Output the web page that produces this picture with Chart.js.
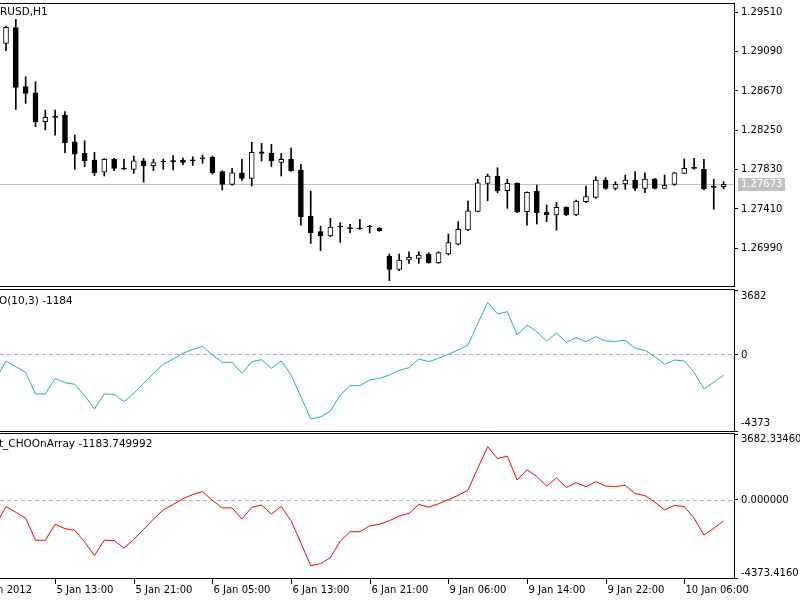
<!DOCTYPE html>
<html>
<head>
<meta charset="utf-8">
<script src="https://cdn.jsdelivr.net/npm/chart.js@4.4.1/dist/chart.umd.min.js"></script>
<style>
html, body { margin: 0; padding: 0; background: #fff; }
#wrap { position: relative; width: 800px; height: 600px; overflow: hidden; background: #fff; }
canvas { position: absolute; left: 0; }
</style>
</head>
<body>
<div id="wrap">
  <canvas id="price" width="800" height="288" style="top:0"></canvas>
  <canvas id="cho" width="800" height="144" style="top:288px"></canvas>
  <canvas id="arr" width="800" height="168" style="top:432px"></canvas>
</div>
<script>
"use strict";

// EURUSD H1, bars 0..73 (5 Jan 08:00 .. 10 Jan 10:00)
const openP = [
    1.29179, 1.29346, 1.28716, 1.28651, 1.28342, 1.28402, 1.28413, 1.28128, 1.28004, 1.27932,
    1.27804, 1.27943, 1.27843, 1.27833, 1.27925, 1.27872, 1.27911, 1.27915, 1.27932, 1.27925,
    1.27946, 1.27961, 1.27808, 1.27673, 1.27797, 1.27737, 1.28021, 1.28004, 1.27907, 1.27940,
    1.27825, 1.27334, 1.27167, 1.27121, 1.27217, 1.27199, 1.27206, 1.27217, 1.27203, 1.26907,
    1.26765, 1.26865, 1.26882, 1.26929, 1.26836, 1.26929, 1.27035, 1.27185, 1.27384, 1.27683,
    1.27762, 1.27605, 1.27683, 1.27381, 1.27601, 1.27377, 1.27345, 1.27427, 1.27345, 1.27487,
    1.27534, 1.27719, 1.27630, 1.27676, 1.27719, 1.27630, 1.27730, 1.27630, 1.27673, 1.27790,
    1.27843, 1.27833, 1.27641, 1.27648
];
const highP = [
    1.29364, 1.29435, 1.28822, 1.28769, 1.28466, 1.28466, 1.28449, 1.28199, 1.28139, 1.28014,
    1.27947, 1.27950, 1.27940, 1.27975, 1.27950, 1.27940, 1.27943, 1.27979, 1.27954, 1.27968,
    1.27986, 1.27975, 1.27818, 1.27843, 1.27940, 1.28121, 1.28110, 1.28100, 1.28004, 1.28060,
    1.27886, 1.27601, 1.27227, 1.27309, 1.27263, 1.27245, 1.27299, 1.27235, 1.27210, 1.26929,
    1.26929, 1.26953, 1.26953, 1.26943, 1.26953, 1.27142, 1.27274, 1.27494, 1.27726, 1.27783,
    1.27850, 1.27726, 1.27690, 1.27594, 1.27665, 1.27452, 1.27480, 1.27434, 1.27505, 1.27655,
    1.27754, 1.27744, 1.27701, 1.27772, 1.27808, 1.27797, 1.27737, 1.27772, 1.27801, 1.27943,
    1.27950, 1.27940, 1.27726, 1.27701
];
const lowP = [
    1.29100, 1.28473, 1.28538, 1.28288, 1.28253, 1.28199, 1.28011, 1.27833, 1.27861, 1.27765,
    1.27762, 1.27818, 1.27833, 1.27790, 1.27697, 1.27818, 1.27833, 1.27826, 1.27882, 1.27875,
    1.27897, 1.27783, 1.27612, 1.27665, 1.27715, 1.27655, 1.27922, 1.27861, 1.27762, 1.27811,
    1.27238, 1.27042, 1.26964, 1.27114, 1.27053, 1.27156, 1.27192, 1.27153, 1.27171, 1.26644,
    1.26751, 1.26829, 1.26829, 1.26829, 1.26829, 1.26918, 1.27025, 1.27178, 1.27377, 1.27498,
    1.27583, 1.27416, 1.27370, 1.27238, 1.27249, 1.27274, 1.27185, 1.27338, 1.27338, 1.27477,
    1.27523, 1.27619, 1.27612, 1.27619, 1.27605, 1.27583, 1.27623, 1.27626, 1.27662, 1.27790,
    1.27836, 1.27612, 1.27406, 1.27623
];
const closeP = [
    1.29349, 1.28708, 1.28644, 1.28342, 1.28388, 1.28388, 1.28118, 1.27996, 1.27925, 1.27797,
    1.27940, 1.27843, 1.27836, 1.27925, 1.27872, 1.27904, 1.27911, 1.27915, 1.27907, 1.27925,
    1.27946, 1.27797, 1.27673, 1.27797, 1.27737, 1.28014, 1.28004, 1.27922, 1.27940, 1.27815,
    1.27327, 1.27156, 1.27121, 1.27217, 1.27217, 1.27199, 1.27196, 1.27217, 1.27178, 1.26765,
    1.26865, 1.26893, 1.26918, 1.26836, 1.26943, 1.27050, 1.27192, 1.27391, 1.27690, 1.27762,
    1.27605, 1.27683, 1.27377, 1.27587, 1.27370, 1.27349, 1.27427, 1.27345, 1.27494, 1.27541,
    1.27719, 1.27630, 1.27673, 1.27719, 1.27630, 1.27730, 1.27630, 1.27662, 1.27797, 1.27843,
    1.27843, 1.27623, 1.27641, 1.27673
];

// CHO(10,3), first value belongs to bar -1 (just left of the window)
const CHO_FIRST = -1;
const choValues = [
    -1364,
    -374, -698, -1021, -2259, -2259, -1364, -1612, -1707, -2355, -3116,
    -2259, -2278, -2697, -2221, -1650, -1079, -564, -260, 64, 293,
    464, -31, -450, -450, -1079, -412, -298, -793, -374, -1174,
    -2412, -3688, -3573, -3231, -2316, -1783, -1783, -1459, -1364, -1174,
    -907, -755, -260, -412, -222, 7, 254, 540, 1778, 2977,
    2311, 2444, 1111, 1683, 1302, 768, 1225, 692, 959, 731,
    1016, 768, 749, 806, 350, 235, -126, -564, -317, -374,
    -1021, -1974, -1593, -1183.749992
];

const priceTicks = [1.2951, 1.2909, 1.2867, 1.2825, 1.2783, 1.2741, 1.2699];
const PRICE_MIN = 1.26587, PRICE_MAX = 1.29599;

const choRange = [-4373, 3682];
const choTickText = ["-4373", "0", "3682"];
const arrRange = [-4373.416, 3682.3346];
const arrTickText = ["-4373.4160", "0.000000", "3682.33460"];

const timeAt = [-3, 5, 13, 21, 29, 37, 45, 53, 61, 69];
const timeText = ["5 Jan 2012", "5 Jan 13:00", "5 Jan 21:00", "6 Jan 05:00", "6 Jan 13:00",
                  "6 Jan 21:00", "9 Jan 06:00", "9 Jan 14:00", "9 Jan 22:00", "10 Jan 06:00"];

const FONT = "'DejaVu Sans'";
const X_MIN = -0.61, X_MAX = 74.06;

function xAxis() {
    return { type: "linear", min: X_MIN, max: X_MAX, display: false, offset: false };
}

function rightAxis(min, max, tickValues, showLabels, fmt) {
    return {
        position: "right", min, max,
        afterFit(s) { s.width = 66; s.paddingTop = 0; s.paddingBottom = 0; },
        afterBuildTicks(s) { s.ticks = tickValues.map(v => ({ value: v })); },
        grid: { drawOnChartArea: false, drawTicks: true, tickLength: 4, tickColor: "#000" },
        border: { display: false },
        ticks: {
            display: showLabels, autoSkip: false, padding: 3, color: "#000",
            font: { family: "DejaVu Sans", size: 10 },
            callback: fmt
        }
    };
}

// frame, title, level line, side labels, price tag, time axis
function paneDecor(cfg) {
    return {
        id: "paneDecor",
        beforeDatasetsDraw(chart) {
            if (!cfg.level) return;
            const { ctx, chartArea: a } = chart;
            const y = Math.round(chart.scales.y.getPixelForValue(cfg.level.value)) + 0.5;
            ctx.save();
            ctx.strokeStyle = cfg.level.color;
            ctx.lineWidth = 1;
            ctx.setLineDash(cfg.level.dash);
            ctx.beginPath();
            ctx.moveTo(a.left, y);
            ctx.lineTo(a.right, y);
            ctx.stroke();
            ctx.restore();
        },
        afterDraw(chart) {
            const { ctx, chartArea: a } = chart;
            const ys = chart.scales.y, xs = chart.scales.x;
            ctx.save();
            ctx.strokeStyle = "#000";
            ctx.lineWidth = 1;
            ctx.strokeRect(-2.5, a.top - 0.5, a.right + 3, a.bottom - a.top + 1);

            ctx.fillStyle = "#000";
            ctx.textAlign = "left";
            ctx.textBaseline = "middle";
            ctx.font = "10.5px " + FONT;
            ctx.fillText(cfg.title, -ctx.measureText(cfg.hidden).width + cfg.titleDx, cfg.titleY);

            ctx.font = "10px " + FONT;
            if (cfg.side) {
                cfg.side.values.forEach((v, k) => {
                    ctx.fillText(cfg.side.text[k], a.right + 7, ys.getPixelForValue(v) + cfg.side.dy[k]);
                });
            }
            if (cfg.tag) {
                const ty = Math.round(ys.getPixelForValue(cfg.tag.value));
                ctx.fillStyle = "#c0c0c0";
                ctx.fillRect(a.right + 4, ty - 6, 47, 13);
                ctx.fillStyle = "#fff";
                ctx.fillText(cfg.tag.text, a.right + 7, ty + 0.5);
            }
            if (cfg.time) {
                ctx.fillStyle = "#000";
                timeAt.forEach((t, k) => {
                    const px = Math.round(xs.getPixelForValue(t)) + 0.5;
                    ctx.beginPath();
                    ctx.moveTo(px, a.bottom + 1);
                    ctx.lineTo(px, a.bottom + 6);
                    ctx.stroke();
                    ctx.fillText(timeText[k], px + 1, a.bottom + 12.5);
                });
            }
            ctx.restore();
        }
    };
}

const baseOpts = {
    responsive: false, animation: false, devicePixelRatio: 1,
    plugins: { legend: { display: false }, tooltip: { enabled: false } }
};

// price pane
const bodies = openP.map((o, i) => ({ x: i, y: [o, closeP[i]] }));
const wicks = lowP.map((l, i) => ({ x: i, y: [l, highP[i]] }));
const bodyFill = openP.map((o, i) => closeP[i] > o ? "#ffffff" : "#000000");
const lastClose = closeP[closeP.length - 1];

new Chart(document.getElementById("price"), {
    type: "bar",
    data: {
        datasets: [
            { data: bodies, backgroundColor: bodyFill, borderColor: "#000", borderWidth: 1,
              borderSkipped: false, barThickness: 5, minBarLength: 1, grouped: false, order: 0 },
            { data: wicks, backgroundColor: "#000", borderWidth: 0,
              barThickness: 1, grouped: false, order: 1 }
        ]
    },
    options: {
        ...baseOpts,
        layout: { padding: { top: 4, bottom: 2, left: 0, right: 0 } },
        scales: {
            x: xAxis(),
            y: rightAxis(PRICE_MIN, PRICE_MAX, priceTicks, true, v => Number(v).toFixed(5))
        }
    },
    plugins: [paneDecor({
        title: "EURUSD,H1", hidden: "EU", titleDx: 0, titleY: 12.5,
        level: { value: lastClose, color: "#c0c0c0", dash: [] },
        tag: { value: lastClose, text: lastClose.toFixed(5) }
    })]
});

// indicator panes
const choPoints = choValues.map((v, k) => ({ x: k + CHO_FIRST, y: v }));
const lastCho = choValues[choValues.length - 1];

function indicatorPane(id, color, range, tickText, padding, decor) {
    return new Chart(document.getElementById(id), {
        type: "line",
        data: {
            datasets: [{ data: choPoints, borderColor: color, borderWidth: 1,
                         pointRadius: 0, tension: 0, fill: false }]
        },
        options: {
            ...baseOpts,
            layout: { padding },
            scales: {
                x: xAxis(),
                y: rightAxis(range[0], range[1], [range[0], 0, range[1]], false)
            }
        },
        plugins: [paneDecor(Object.assign({
            level: { value: 0, color: "#b4b4b4", dash: [4, 3] },
            side: { values: [range[0], 0, range[1]], text: tickText, dy: decor.dy }
        }, decor))]
    });
}

indicatorPane("cho", "#20b2aa", choRange, choTickText,
    { top: 2, bottom: 1, left: 0, right: 0 },
    { title: "CHO(10,3) " + Math.round(lastCho), hidden: "CH", titleDx: -1, titleY: 13.5,
      dy: [-8, 0.5, 6.5] });

indicatorPane("arr", "#ff0000", arrRange, arrTickText,
    { top: 2, bottom: 22, left: 0, right: 0 },
    { title: "Test_CHOOnArray " + lastCho.toFixed(6), hidden: "Tes", titleDx: -1, titleY: 12.5,
      dy: [-5, 0.5, 5], time: true });
</script>
</body>
</html>
